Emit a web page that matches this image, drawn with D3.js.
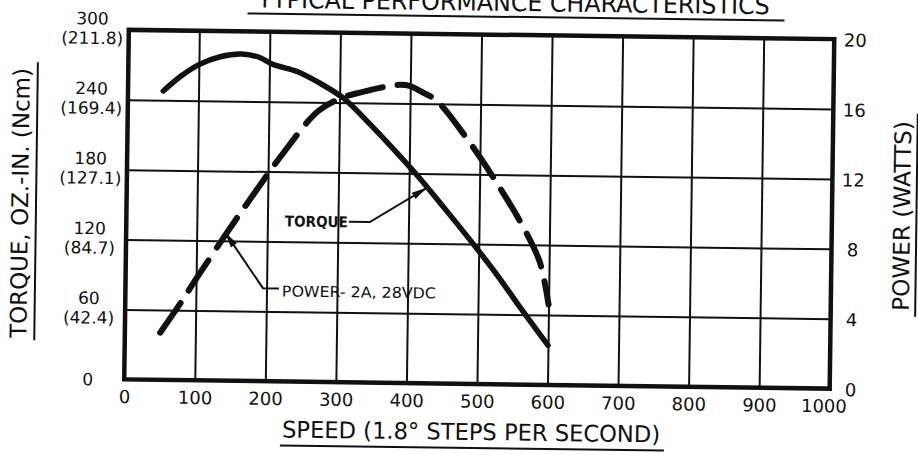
<!DOCTYPE html>
<html>
<head>
<meta charset="utf-8">
<script src="https://cdnjs.cloudflare.com/ajax/libs/d3/7.8.5/d3.min.js"></script>
<style>
  body { margin: 0; background: #fff; }
  svg { display: block; }
  text { font-family: "DejaVu Sans", sans-serif; fill: #111; }
</style>
</head>
<body>
<div id="chart"></div>
<script>
// axis ticks
var speedTicks = [0, 100, 200, 300, 400, 500, 600, 700, 800, 900, 1000];
var torqueTicks = [0, 60, 120, 180, 240, 300];
var torqueNcm = ['', '(42.4)', '(84.7)', '(127.1)', '(169.4)', '(211.8)'];
var powerTicks = [0, 4, 8, 12, 16, 20];

// torque curve, oz.-in.
var torqueSpeed = [50, 75, 100, 130, 160, 185, 205, 240, 270, 305, 340, 380, 415, 450, 495, 530, 560, 600];
var torqueValues = [248, 261, 271, 278, 280.5, 278, 272, 266, 257, 244, 224, 199, 176, 151, 118, 91, 66, 34];

// power curve, watts
var powerSpeed = [50, 75, 100, 140, 175, 220, 270, 305, 330, 360, 380, 400, 415, 437, 480, 528, 567, 587, 600];
var powerValues = [2.7, 4.2, 5.8, 8.3, 10.4, 13.0, 15.5, 16.3, 16.6, 16.9, 17.05, 17.0, 16.7, 16.2, 14.1, 11.3, 8.7, 7.0, 4.6];

var width = 918;
var height = 455;
// plot box (window.top is taken, so p-prefixed names)
var pLeft = 126.5, pRight = 832, pTop = 34.5, pBottom = 384;
var w = pRight - pLeft, h = pBottom - pTop;

var svg = d3.select('#chart')
  .append('svg')
  .attr('width', width)
  .attr('height', height)
  .append('g')
  // the scan sits a little crooked
  .attr('transform', 'rotate(0.75,479,209)');

var x = d3.scaleLinear().domain([0, 1000]).range([pLeft, pRight]);
var y = d3.scaleLinear().domain([0, 300]).range([pBottom, pTop]);
var yPower = d3.scaleLinear().domain([0, 20]).range([pBottom, pTop]);

// vertical grid + speed labels
var gx = svg.append('g')
  .attr('transform', 'translate(0,' + pBottom + ')')
  .call(d3.axisBottom(x).tickValues(speedTicks).tickFormat(d3.format('d')).tickSize(-h).tickPadding(11));
gx.select('.domain').remove();
gx.selectAll('line').attr('stroke', '#111').attr('stroke-width', 2);
gx.selectAll('text')
  .attr('font-size', 18)
  .attr('font-family', '"DejaVu Sans", sans-serif')
  .attr('fill', '#111')
  .attr('dx', function(d) { return d === 1000 ? -6 : 0; });

// horizontal grid + two line torque labels
var gy = svg.append('g')
  .attr('transform', 'translate(' + pLeft + ',0)')
  .call(d3.axisLeft(y).tickValues(torqueTicks).tickSize(-w).tickFormat(''));
gy.select('.domain').remove();
gy.selectAll('line').attr('stroke', '#111').attr('stroke-width', 2);

gy.selectAll('.tick').each(function(d, i) {
  var t = d3.select(this).append('text')
    .attr('x', -36.5)
    .attr('text-anchor', 'middle')
    .attr('font-size', 17)
    .attr('font-family', '"DejaVu Sans", sans-serif')
    .attr('fill', '#111');
  if (d === 0) {
    t.attr('dy', '0.35em').text(d);
  } else {
    t.append('tspan').attr('x', -36.5).attr('y', -5.5).text(d);
    t.append('tspan').attr('x', -36.5).attr('y', 14).text(torqueNcm[i]);
  }
});

// power labels on the right
var gp = svg.append('g')
  .attr('transform', 'translate(' + pRight + ',0)')
  .call(d3.axisRight(yPower).tickValues(powerTicks).tickSize(0));
gp.select('.domain').remove();
gp.selectAll('text')
  .attr('x', 21)
  .attr('dy', '0.38em')
  .attr('text-anchor', 'middle')
  .attr('font-size', 18)
  .attr('font-family', '"DejaVu Sans", sans-serif')
  .attr('fill', '#111');

// heavy frame
svg.append('rect')
  .attr('x', pLeft).attr('y', pTop)
  .attr('width', w).attr('height', h)
  .attr('fill', 'none')
  .attr('stroke', '#111')
  .attr('stroke-width', 4.5);

// curves
var torqueLine = d3.line()
  .x(function(d, i) { return x(torqueSpeed[i]); })
  .y(function(d) { return y(d); })
  .curve(d3.curveCatmullRom.alpha(0.5));

var powerLine = d3.line()
  .x(function(d, i) { return x(powerSpeed[i]); })
  .y(function(d) { return yPower(d); })
  .curve(d3.curveCatmullRom.alpha(0.5));

svg.append('path')
  .attr('d', torqueLine(torqueValues))
  .attr('fill', 'none')
  .attr('stroke', '#111')
  .attr('stroke-width', 5.5)
  .attr('stroke-linecap', 'round')
  .attr('stroke-linejoin', 'round');

svg.append('path')
  .attr('d', powerLine(powerValues))
  .attr('fill', 'none')
  .attr('stroke', '#111')
  .attr('stroke-width', 6)
  .attr('stroke-dasharray', '36,15')
  .attr('stroke-linecap', 'round');

// leader with arrowhead, pts = [start, ..., tip]
function leader(pts) {
  svg.append('path')
    .attr('d', d3.line()(pts))
    .attr('fill', 'none')
    .attr('stroke', '#111')
    .attr('stroke-width', 2);
  var tip = pts[pts.length - 1], from = pts[pts.length - 2];
  var dx = tip[0] - from[0], dy = tip[1] - from[1];
  var len = Math.sqrt(dx * dx + dy * dy);
  var ux = dx / len, uy = dy / len;
  var bx = tip[0] - 16 * ux, by = tip[1] - 16 * uy;
  svg.append('path')
    .attr('d', 'M' + tip + 'L' + [bx - 3.6 * uy, by + 3.6 * ux] + 'L' + [bx + 3.6 * uy, by - 3.6 * ux] + 'Z')
    .attr('fill', '#111');
}

var torqueTip = [x(426), y(168)];
leader([[349, 223.5], [370, 223.5], torqueTip]);
svg.append('text')
  .attr('x', 285).attr('y', 229)
  .attr('font-size', 15)
  .attr('font-weight', 'bold')
  .attr('textLength', 63)
  .attr('lengthAdjust', 'spacingAndGlyphs')
  .text('TORQUE');

var powerTip = [x(140), yPower(8.5)];
leader([[280, 291], [264, 291], powerTip]);
svg.append('text')
  .attr('x', 283).attr('y', 299)
  .attr('font-size', 15)
  .attr('textLength', 154)
  .attr('lengthAdjust', 'spacingAndGlyphs')
  .text('POWER- 2A, 28VDC');

// titles, all underlined
function underline(x1, y1, x2, y2) {
  svg.append('line')
    .attr('x1', x1).attr('y1', y1).attr('x2', x2).attr('y2', y2)
    .attr('stroke', '#111')
    .attr('stroke-width', 2);
}

svg.append('text')
  .attr('x', 511).attr('y', 10.5)
  .attr('text-anchor', 'middle')
  .attr('font-size', 24.5)
  .attr('textLength', 512)
  .attr('lengthAdjust', 'spacingAndGlyphs')
  .text('TYPICAL PERFORMANCE CHARACTERISTICS');
underline(245, 16.5, 782, 16.5);

svg.append('text')
  .attr('x', 474).attr('y', 440)
  .attr('text-anchor', 'middle')
  .attr('font-size', 23)
  .attr('textLength', 378)
  .attr('lengthAdjust', 'spacingAndGlyphs')
  .text('SPEED (1.8° STEPS PER SECOND)');
underline(283, 448, 667, 448);

svg.append('text')
  .attr('transform', 'translate(28,209) rotate(-90)')
  .attr('text-anchor', 'middle')
  .attr('font-size', 23)
  .attr('textLength', 270)
  .attr('lengthAdjust', 'spacingAndGlyphs')
  .text('TORQUE, OZ.-IN. (Ncm)');
underline(36, 68, 36, 346);

svg.append('text')
  .attr('transform', 'translate(910,210.5) rotate(-90)')
  .attr('text-anchor', 'middle')
  .attr('font-size', 23)
  .attr('textLength', 190)
  .attr('lengthAdjust', 'spacingAndGlyphs')
  .text('POWER (WATTS)');
underline(916.5, 108, 916.5, 311);
</script>
</body>
</html>
